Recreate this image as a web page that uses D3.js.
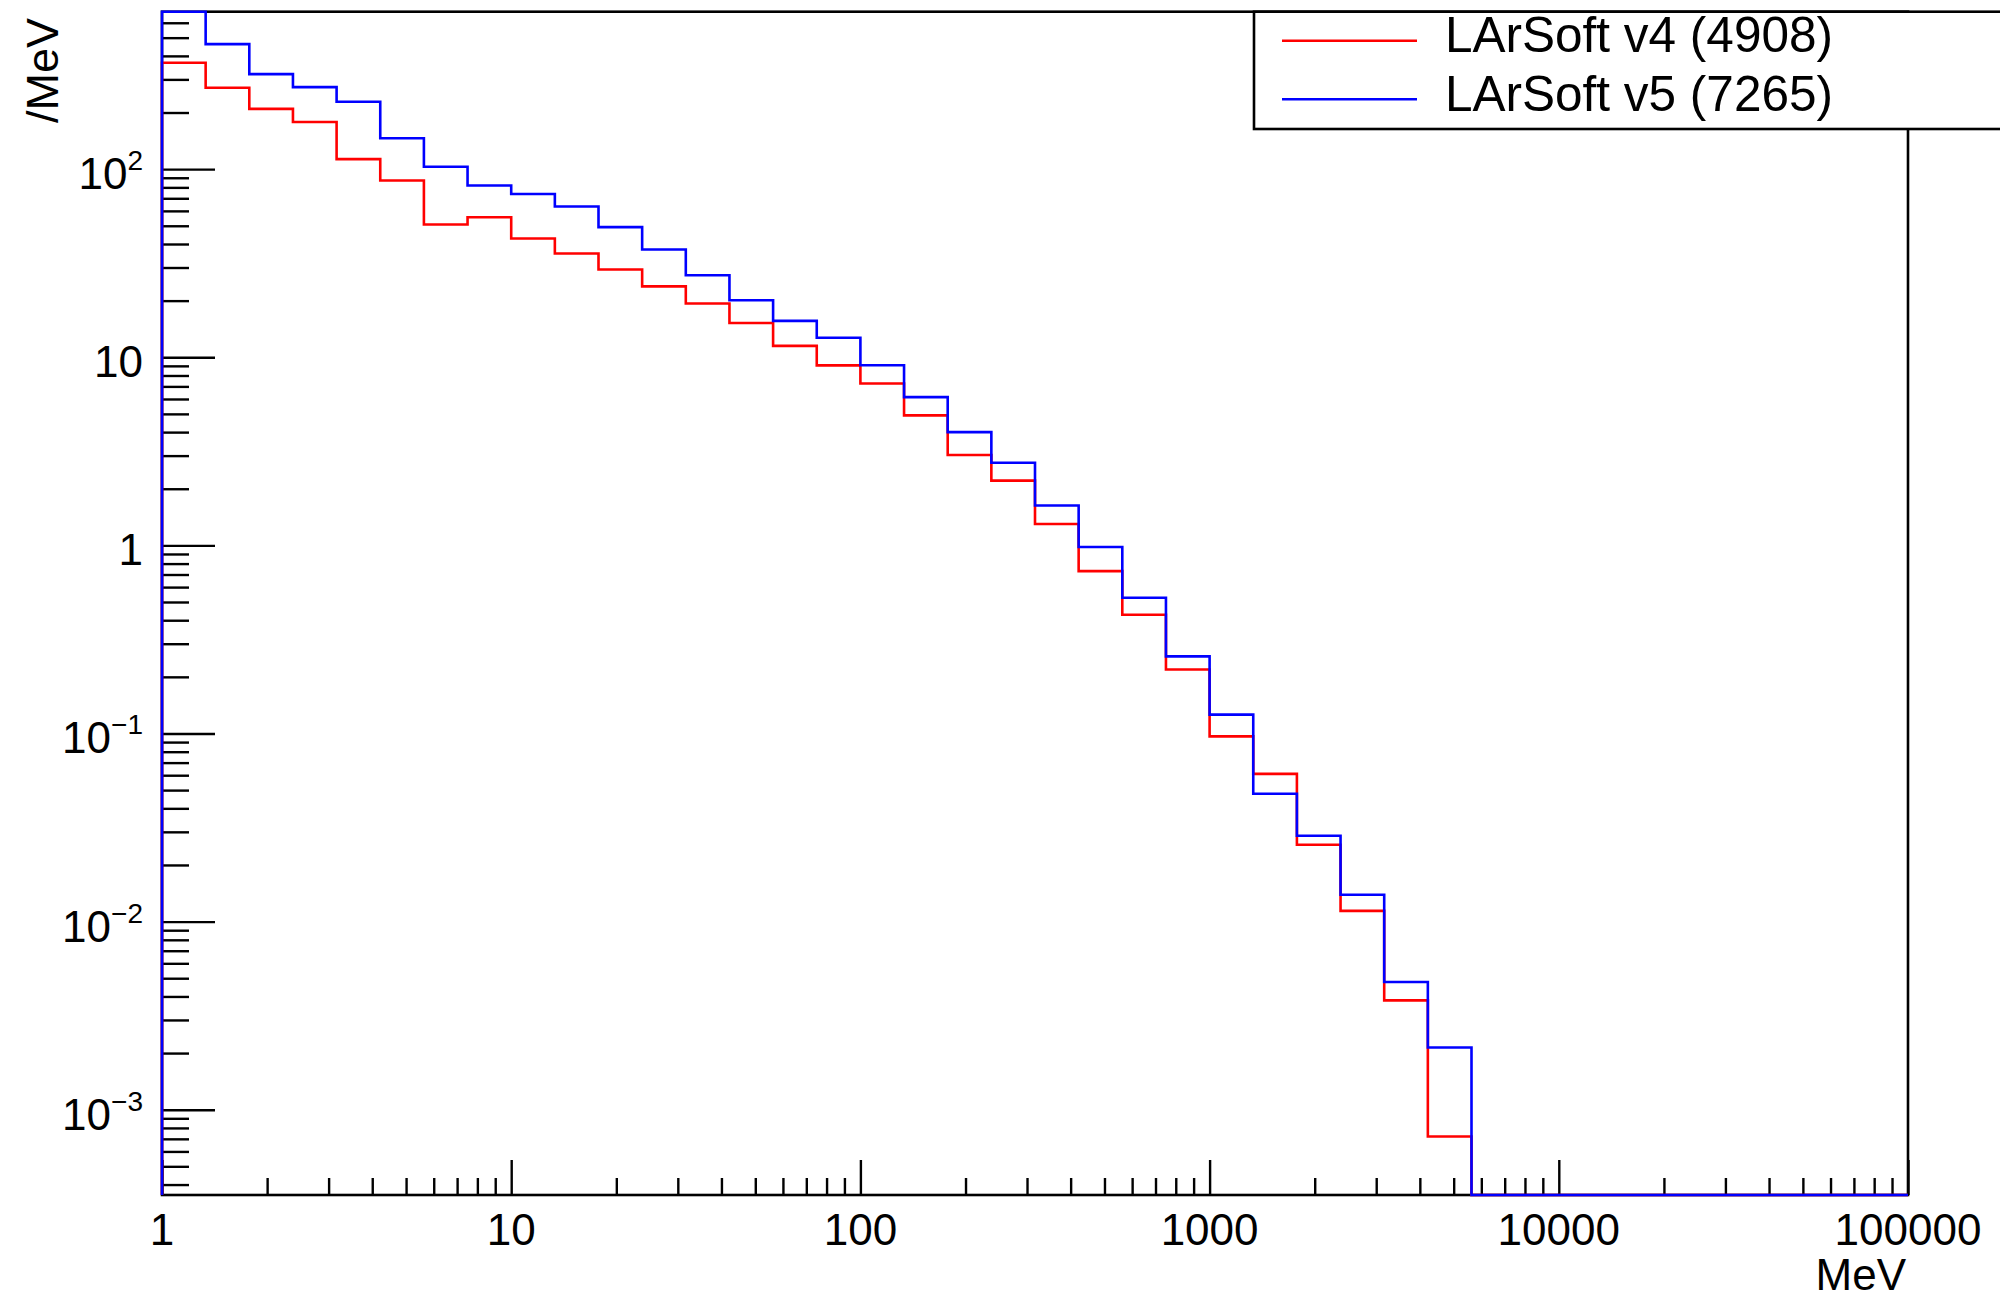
<!DOCTYPE html>
<html>
<head>
<meta charset="utf-8">
<script src="https://cdn.jsdelivr.net/npm/d3@7"></script>
<style>
  html, body { margin: 0; padding: 0; background: #fff; }
  svg { display: block; }
  text { font-family: "Liberation Sans", Arial, Helvetica, sans-serif; fill: #000; }
</style>
</head>
<body>
<svg id="chart" width="2000" height="1301"></svg>
<script>
// ---------------- data ----------------
const xMin = 1, xMax = 100000, nBins = 40;           // 8 log bins per decade
const seriesNames = ["LArSoft v4 (4908)", "LArSoft v5 (7265)"];
const seriesColors = ["#ff0000", "#0000ff"];
// per-bin content (/MeV), bins 1 .. 100000 MeV
const v4Values = [368, 271, 209, 178, 113, 87, 50.8, 55.5, 42.8, 35.6,
                  29.3, 23.8, 19.3, 15.2, 11.5, 9.05, 7.25, 4.91, 3.02, 2.21,
                  1.30, 0.73, 0.428, 0.219, 0.0965, 0.061, 0.0256, 0.0114, 0.00381, 0.00072,
                  0, 0, 0, 0, 0, 0, 0, 0, 0, 0];
const v5Values = [800, 462, 320, 273, 228, 146, 103, 81.8, 73.8, 63.3,
                  49.2, 37.4, 27.3, 20.1, 15.6, 12.7, 9.06, 6.14, 4.0, 2.75,
                  1.63, 0.98, 0.527, 0.257, 0.126, 0.0478, 0.0286, 0.0139, 0.00477, 0.00214,
                  0, 0, 0, 0, 0, 0, 0, 0, 0, 0];
const xTickValues = [1, 10, 100, 1000, 10000, 100000];
const xTickLabels = ["1", "10", "100", "1000", "10000", "100000"];
const yTickValues = [0.001, 0.01, 0.1, 1, 10, 100];
const yTickBase = ["10", "10", "10", "1", "10", "10"];
const yTickExp  = ["\u22123", "\u22122", "\u22121", "", "", "2"];
const yDomain = [3.52e-4, 687];
const xTitle = "MeV", yTitle = "/MeV";

// ---------------- layout ----------------
const L = 162, R = 1908, T = 11.7, B = 1195;
const svg = d3.select("#chart");

const x = d3.scaleLog().domain([xMin, xMax]).range([L, R]);
const y = d3.scaleLog().domain(yDomain).range([B, T]).clamp(true);

const edges = d3.range(nBins + 1).map(i => xMin * Math.pow(xMax / xMin, i / nBins));

// minor ticks
function minorTicks(lo, hi) {
  const out = [];
  for (let d = Math.floor(Math.log10(lo)); d <= Math.ceil(Math.log10(hi)); d++) {
    for (let m = 2; m <= 9; m++) {
      const v = m * Math.pow(10, d);
      if (v > lo && v < hi) out.push(v);
    }
  }
  return out;
}

// ---------------- axes ticks (inside frame) ----------------
const gx = svg.append("g").attr("transform", `translate(0,${B})`);
gx.append("g").call(d3.axisTop(x).tickValues(xTickValues).tickSize(35).tickFormat(""));
gx.append("g").call(d3.axisTop(x).tickValues(minorTicks(xMin, xMax)).tickSize(17).tickFormat(""));
const gy = svg.append("g").attr("transform", `translate(${L},0)`);
gy.append("g").call(d3.axisRight(y).tickValues(yTickValues).tickSize(53).tickFormat(""));
gy.append("g").call(d3.axisRight(y).tickValues(minorTicks(yDomain[0], yDomain[1])).tickSize(27).tickFormat(""));
svg.selectAll(".domain").remove();
svg.selectAll(".tick line").attr("stroke", "#000").attr("stroke-width", 2.4);

// frame
svg.append("rect").attr("x", L).attr("y", T).attr("width", R - L).attr("height", B - T)
  .attr("fill", "none").attr("stroke", "#000").attr("stroke-width", 2.6);

// tick labels
svg.append("g").selectAll("text").data(xTickValues).join("text")
  .attr("x", d => x(d)).attr("y", 1245)
  .attr("text-anchor", "middle").attr("font-size", 44)
  .text((d, i) => xTickLabels[i]);

const yl = svg.append("g").selectAll("text").data(yTickValues).join("text")
  .attr("x", 143).attr("y", d => y(d) + 20)
  .attr("text-anchor", "end").attr("font-size", 44);
yl.append("tspan").text((d, i) => yTickBase[i]);
yl.filter((d, i) => yTickExp[i] !== "").append("tspan")
  .attr("font-size", 28).attr("dy", -19)
  .text(d => yTickExp[yTickValues.indexOf(d)]);

// axis titles
svg.append("text").attr("x", 1906).attr("y", 1290).attr("text-anchor", "end")
  .attr("font-size", 44).text(xTitle);
svg.append("text").attr("transform", "translate(58,18) rotate(-90)")
  .attr("text-anchor", "end").attr("font-size", 45).text(yTitle);

// ---------------- histograms ----------------
function histPoints(vals) {
  const pts = [[edges[0], 0]];
  vals.forEach((v, i) => { pts.push([edges[i], v]); pts.push([edges[i + 1], v]); });
  pts.push([edges[nBins], 0]);
  return pts;
}
const line = d3.line()
  .x(d => x(d[0]))
  .y(d => d[1] > 0 ? y(d[1]) : B);

[v4Values, v5Values].forEach((vals, si) => {
  svg.append("path").attr("d", line(histPoints(vals)))
    .attr("fill", "none").attr("stroke", seriesColors[si]).attr("stroke-width", 2.6)
    .attr("stroke-linejoin", "miter");
});

// ---------------- legend ----------------
const lg = svg.append("g");
lg.append("rect").attr("x", 1254).attr("y", T).attr("width", 800).attr("height", 129 - T)
  .attr("fill", "#fff").attr("stroke", "#000").attr("stroke-width", 2.6);
const legY = [40.7, 99.3];
seriesNames.forEach((name, i) => {
  lg.append("line").attr("x1", 1282).attr("x2", 1417).attr("y1", legY[i]).attr("y2", legY[i])
    .attr("stroke", seriesColors[i]).attr("stroke-width", 2.6);
  lg.append("text").attr("x", 1445).attr("y", legY[i] + 11.5)
    .attr("font-size", 49.5).text(name);
});
</script>
</body>
</html>
